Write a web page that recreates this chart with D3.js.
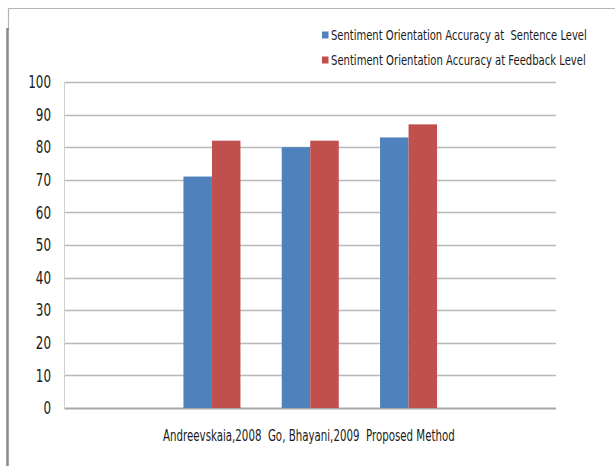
<!DOCTYPE html>
<html>
<head>
<meta charset="utf-8">
<script src="https://cdn.jsdelivr.net/npm/d3@7"></script>
<style>
  html, body { margin: 0; padding: 0; background: #fff; }
  svg { display: block; }
  text { font-family: "DejaVu Sans Condensed", "DejaVu Sans", sans-serif; fill: #1a1a1a; white-space: pre; }
</style>
</head>
<body>
<svg id="chart" width="615" height="466"></svg>
<script>
// Methods compared
const categories = ["Andreevskaia,2008", "Go, Bhayani,2009", "Proposed Method"];
// Series names and accuracy values (%)
const seriesNames = [
  "Sentiment Orientation Accuracy at  Sentence Level",
  "Sentiment Orientation Accuracy at Feedback Level"
];
const sentenceLevel = [71, 80, 83];
const feedbackLevel = [82, 82, 87];
const seriesColors = ["#4F81BD", "#C0504D"];
const yTicks = [0, 10, 20, 30, 40, 50, 60, 70, 80, 90, 100];

const seriesValues = [sentenceLevel, feedbackLevel];

const svg = d3.select("#chart");

// Squeeze a text horizontally to a given width, keeping its anchor point fixed
function narrow(sel, width, anchorX, anchorY) {
  sel.each(function (d, i) {
    const w = typeof width === "function" ? width(d, i) : width;
    const natural = this.getComputedTextLength();
    const k = natural > 0 ? w / natural : 1;
    const ax = typeof anchorX === "function" ? anchorX(d, i) : anchorX;
    const ay = typeof anchorY === "function" ? anchorY(d, i) : anchorY;
    d3.select(this).attr("transform",
      `translate(${ax},${ay}) scale(${k},1) translate(${-ax},${-ay})`);
  });
}

// Outer frame: thin top rule and heavier left edge
svg.append("line").attr("x1", 8.5).attr("x2", 615).attr("y1", 8.5).attr("y2", 8.5)
  .attr("stroke", "#b4b4b4").attr("stroke-width", 1.2);
svg.append("line").attr("x1", 8.5).attr("x2", 8.5).attr("y1", 8.5).attr("y2", 30)
  .attr("stroke", "#b4b4b4").attr("stroke-width", 1.2);
svg.append("line").attr("x1", 7.5).attr("x2", 7.5).attr("y1", 28).attr("y2", 466)
  .attr("stroke", "#8a8a8a").attr("stroke-width", 2.5);

const plotLeft = 64.5, plotRight = 556;
const y = d3.scaleLinear().domain([0, 100]).range([408, 82]);

// Categories sit in the middle three of five equal slots across the plot
const slot = (plotRight - plotLeft) / 5;
const x = d3.scaleBand().domain(categories)
  .range([plotLeft + slot, plotRight - slot])
  .paddingInner(0.42).paddingOuter(0.21);
const xInner = d3.scaleBand().domain(d3.range(seriesNames.length)).range([0, x.bandwidth()]);

// Gridlines
svg.append("g").selectAll("line").data(yTicks).join("line")
  .attr("x1", plotLeft).attr("x2", plotRight)
  .attr("y1", d => Math.round(y(d)) + 0.5).attr("y2", d => Math.round(y(d)) + 0.5)
  .attr("stroke", d => d === 0 ? "#a8a8a8" : "#b8b8b8")
  .attr("stroke-width", d => d === 0 ? 2 : 1.5);

// Vertical axis line
svg.append("line").attr("x1", plotLeft).attr("x2", plotLeft)
  .attr("y1", y(100)).attr("y2", y(0))
  .attr("stroke", "#d0d0d0").attr("stroke-width", 1);

// Y tick labels (narrow, tall numerals), right-aligned at x = 51
const yg = svg.append("g");
yg.selectAll("text").data(yTicks).join("text")
  .attr("x", 51).attr("y", d => y(d))
  .attr("dy", "0.36em")
  .attr("text-anchor", "end")
  .style("font-size", "17px")
  .text(d => d)
  .call(narrow, d => String(d).length * 7.6, 51, d => y(d));

// Bars
const groups = svg.append("g").selectAll("g").data(categories).join("g")
  .attr("transform", d => `translate(${x(d)},0)`);
groups.selectAll("rect")
  .data((c, i) => seriesValues.map((vals, s) => ({ s, v: vals[i] })))
  .join("rect")
  .attr("x", d => xInner(d.s))
  .attr("width", xInner.bandwidth())
  .attr("y", d => y(d.v))
  .attr("height", d => y(0) - y(d.v))
  .attr("fill", d => seriesColors[d.s]);

// Category labels run together on one line under the plot
svg.append("text")
  .attr("x", 163).attr("y", 441)
  .style("font-size", "15.5px")
  .text(categories.join("  "))
  .call(narrow, 292, 163, 441);

// Legend
const legend = svg.append("g").selectAll("g").data(seriesNames).join("g")
  .attr("transform", (d, i) => `translate(322,${35 + i * 25})`);
legend.append("rect").attr("x", 0).attr("y", -3.5).attr("width", 6.5).attr("height", 7)
  .attr("fill", (d, i) => seriesColors[i]);
legend.append("text")
  .attr("x", 9).attr("y", 5)
  .style("font-size", "14px")
  .text(d => d)
  .call(narrow, (d, i) => i === 0 ? 256 : 255, 9, 5);
</script>
</body>
</html>
